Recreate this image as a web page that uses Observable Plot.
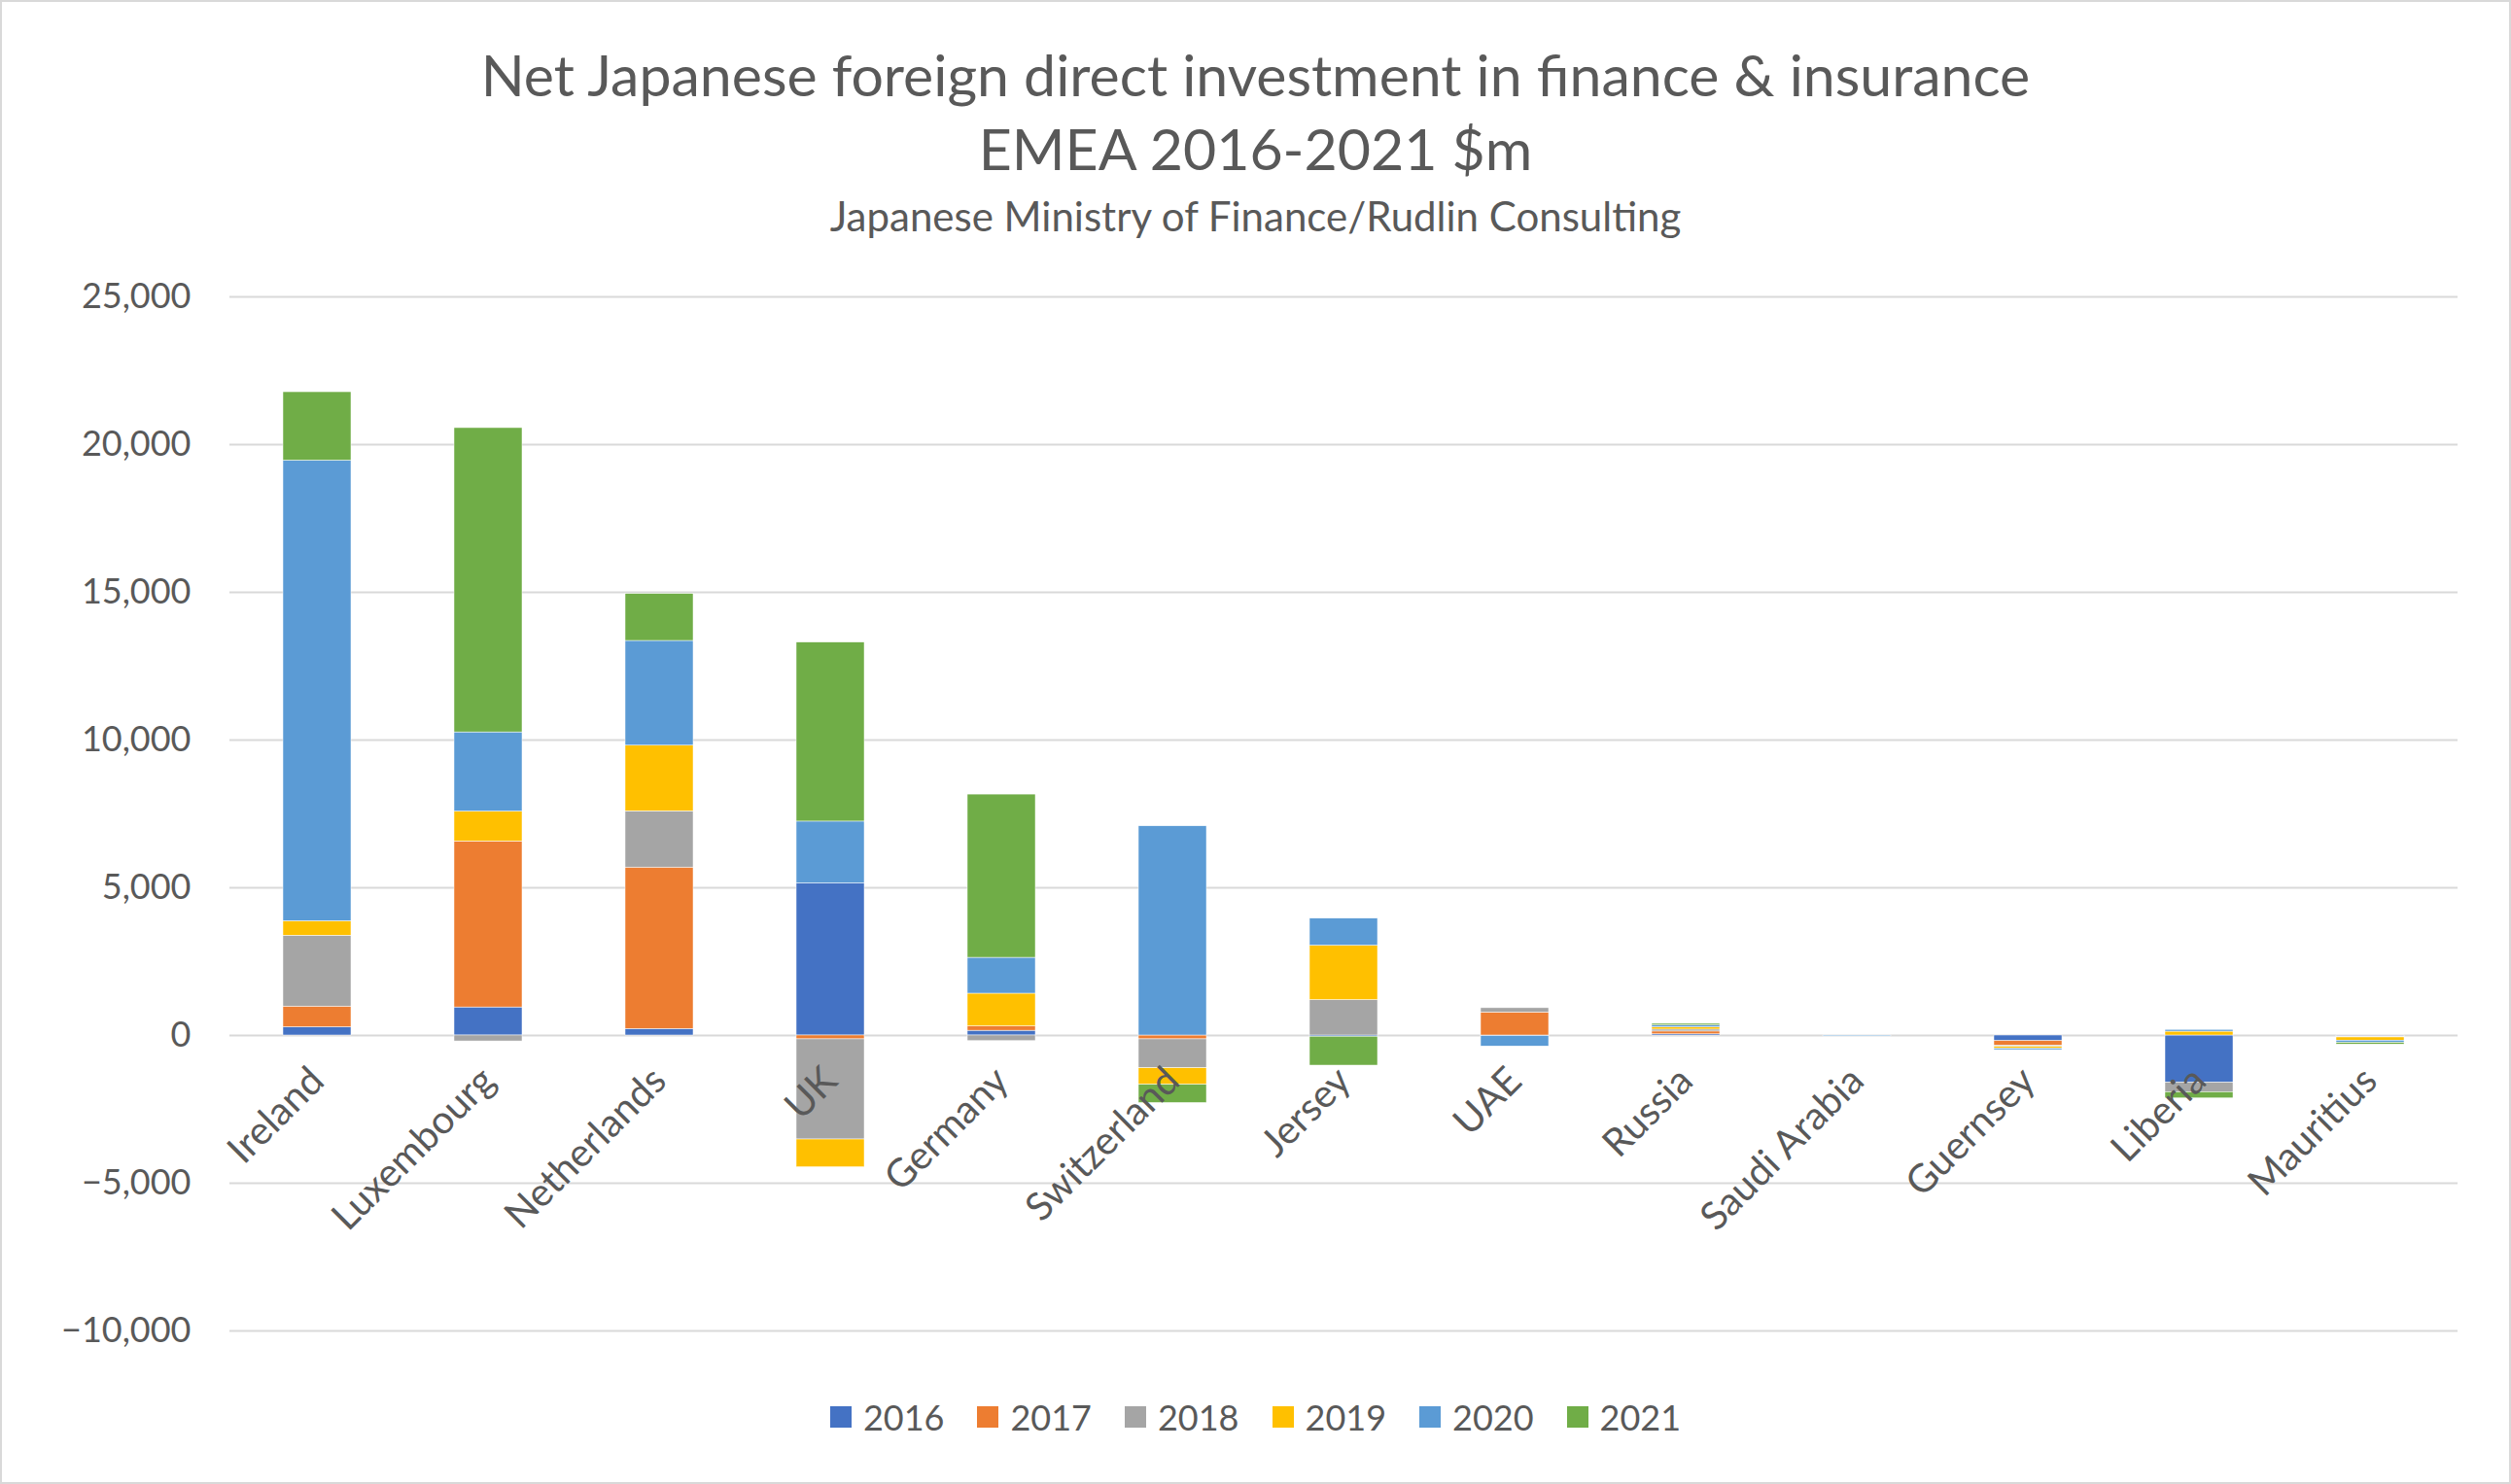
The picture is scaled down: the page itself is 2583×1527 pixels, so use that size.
<!DOCTYPE html>
<html>
<head>
<meta charset="utf-8">
<script src="https://cdn.jsdelivr.net/npm/d3@7"></script>
<script src="https://cdn.jsdelivr.net/npm/@observablehq/plot@0.6"></script>
<style>
  html, body { margin: 0; padding: 0; background: #fff; }
  #page { box-sizing: border-box; width: 2583px; height: 1527px; border: 2px solid #d9d9d9; font-family: Lato, "Open Sans", sans-serif; color: #595959; overflow: hidden; }
  #header { height: 268px; text-align: center; }
  #title { padding-top: 37px; font-size: 59px; line-height: 76px; }
  #subtitle { font-size: 42px; line-height: 62px; }
  #legend { height: 96px; display: flex; justify-content: center; align-items: center; font-size: 36px; }
  .item { display: flex; align-items: center; margin: 0 17px; }
  .sw { width: 22px; height: 22px; margin-right: 12px; }
  svg { display: block; }
</style>
</head>
<body>
<div id="page">
  <div id="header">
    <div id="title">Net Japanese foreign direct investment in finance &amp; insurance<br>EMEA 2016-2021 $m</div>
    <div id="subtitle">Japanese Ministry of Finance/Rudlin Consulting</div>
  </div>
  <div id="chart"></div>
  <div id="legend"></div>
</div>
<script>
const countries = ["Ireland","Luxembourg","Netherlands","UK","Germany","Switzerland","Jersey","UAE","Russia","Saudi Arabia","Guernsey","Liberia","Mauritius"];
const years = ["2016","2017","2018","2019","2020","2021"];
const colors = ["#4472C4","#ED7D31","#A5A5A5","#FFC000","#5B9BD5","#70AD47"];
const v2016 = [280, 950, 220, 5150, 160, 0, -40, -20, 40, 0, -190, -1600, -30];
const v2017 = [700, 5620, 5465, -130, 150, -130, 0, 780, 95, 0, -160, 0, -20];
const v2018 = [2400, -200, 1905, -3390, -190, -980, 1200, 145, 65, 0, -35, -320, -15];
const v2019 = [490, 1010, 2220, -940, 1105, -560, 1840, 0, 80, 0, -65, 130, -110];
const v2020 = [15590, 2680, 3545, 2090, 1215, 7080, 915, -350, 60, -30, -45, 60, -75];
const v2021 = [2315, 10300, 1590, 6060, 5525, -615, -980, 0, 55, 0, 0, -210, -55];
const yTicks = [-10000, -5000, 0, 5000, 10000, 15000, 20000, 25000];

const series = [v2016, v2017, v2018, v2019, v2020, v2021];
const data = [];
years.forEach((yr, i) => countries.forEach((c, j) => data.push({country: c, year: yr, value: series[i][j]})));

const plot = Plot.plot({
  width: 2579,
  height: 1140,
  marginTop: 35,
  marginBottom: 41,
  marginLeft: 234,
  marginRight: 53,
  style: {fontFamily: "Lato, 'Open Sans', sans-serif", color: "#595959", background: "white"},
  x: {domain: countries, paddingInner: 0.6, paddingOuter: 0.3, axis: null, label: null},
  y: {domain: [-10000, 25000], axis: null, label: null},
  color: {domain: years, range: colors},
  marks: [
    Plot.ruleY(yTicks, {stroke: "#D9D9D9", strokeWidth: 2}),
    Plot.barY(data, {x: "country", y: "value", fill: "year", stroke: "white", strokeWidth: 0.5}),
    Plot.axisY(yTicks, {tickSize: 0, tickPadding: 40, fontSize: 36, tickFormat: d3.format(","), fill: "#595959", label: null}),
    Plot.text(countries, {x: d => d, y: () => 0, text: d => d, rotate: -45, textAnchor: "end", lineAnchor: "middle", dy: 40, fontSize: 40, fill: "#595959"})
  ]
});
document.getElementById("chart").appendChild(plot);

const legend = document.getElementById("legend");
years.forEach((yr, i) => {
  const it = document.createElement("div");
  it.className = "item";
  it.innerHTML = `<div class="sw" style="background:${colors[i]}"></div><span>${yr}</span>`;
  legend.appendChild(it);
});
</script>
</body>
</html>
